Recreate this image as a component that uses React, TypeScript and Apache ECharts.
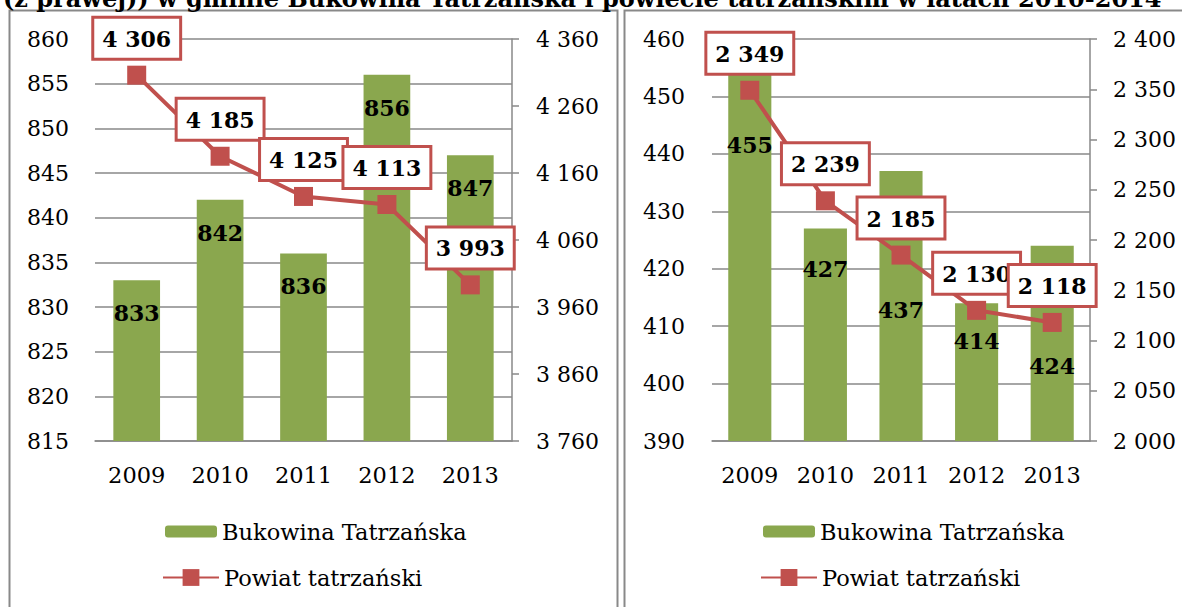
import React, { useEffect, useRef } from "react";
import * as echarts from "echarts";

const years = ["2009", "2010", "2011", "2012", "2013"];
const bukowinaLeft = [833, 842, 836, 856, 847];
const powiatLeft = [4306, 4185, 4125, 4113, 3993];
const bukowinaRight = [455, 427, 437, 414, 424];
const powiatRight = [2349, 2239, 2185, 2130, 2118];
const leftSecondaryTicks = [3760, 3860, 3960, 4060, 4160, 4260, 4360];
const titleText =
  "(z prawej)) w gminie Bukowina Tatrzańska i powiecie tatrzańskim w latach 2010-2014";
const barName = "Bukowina Tatrzańska";
const lineName = "Powiat tatrzański";

const FONT = "DejaVu Serif";
const GRID = "#898989";
const GREEN = "#8AA74E";
const RED = "#C0504D";

const fmt = (v: number) => String(v).replace(/\B(?=(\d{3})+(?!\d))/g, " ");

// label drop (px below bar top) for the right panel, as placed in the original
const rightBarLabelDrop = [66, 29, 128, 27, 109];

export default function App() {
  const ref = useRef<HTMLDivElement>(null);
  useEffect(() => {
    if (!ref.current) return;
    const chart = echarts.init(ref.current, undefined, { renderer: "svg" });

    const tickLabel = { fontSize: 22, fontFamily: FONT, color: "#000" };
    const barLabel = {
      show: true,
      position: "insideTop",
      distance: 22,
      fontSize: 22,
      fontWeight: "bold",
      fontFamily: FONT,
      color: "#000",
    };
    const lineLabel = {
      show: true,
      position: "top",
      distance: 8,
      formatter: (p: any) => fmt(p.value),
      fontSize: 22,
      fontWeight: "bold",
      fontFamily: FONT,
      color: "#000",
      backgroundColor: "#fff",
      borderColor: RED,
      borderWidth: 3,
      padding: [9, 8, 8, 8],
    };
    const legendText = { fontSize: 22.5, fontFamily: FONT, color: "#000" };

    const xAxisBase = {
      type: "category",
      data: years,
      boundaryGap: true,
      axisLine: { show: true, onZero: false, lineStyle: { color: GRID, width: 1.5 } },
      axisTick: { show: false },
      axisLabel: { ...tickLabel, fontSize: 22.5, margin: 22 },
      splitLine: { show: false },
    };

    const legendBase = {
      padding: 0,
      textStyle: legendText,
      selectedMode: false,
    };

    const option: any = {
      animation: false,
      backgroundColor: "#fff",
      grid: [
        { left: 95, top: 39, width: 417, height: 402 },
        { left: 712, top: 39, width: 378, height: 402 },
      ],
      xAxis: [
        { ...xAxisBase, gridIndex: 0 },
        { ...xAxisBase, gridIndex: 1 },
      ],
      yAxis: [
        {
          type: "value",
          gridIndex: 0,
          position: "left",
          min: 815,
          max: 860,
          interval: 5,
          axisLine: { show: false },
          axisTick: { show: false },
          splitLine: { show: true, lineStyle: { color: GRID, width: 1.5 } },
          axisLabel: { ...tickLabel, margin: 26 },
        },
        {
          type: "value",
          gridIndex: 0,
          position: "right",
          min: 3760,
          max: 4360,
          axisLine: { show: true, lineStyle: { color: GRID, width: 1.5 } },
          axisTick: {
            show: true,
            length: 7,
            lineStyle: { color: GRID, width: 1.5 },
            customValues: leftSecondaryTicks,
          },
          splitLine: { show: false },
          axisLabel: {
            ...tickLabel,
            margin: 24,
            customValues: leftSecondaryTicks,
            formatter: (v: number) => fmt(v),
          },
        },
        {
          type: "value",
          gridIndex: 1,
          position: "left",
          min: 390,
          max: 460,
          interval: 10,
          axisLine: { show: false },
          axisTick: { show: false },
          splitLine: { show: true, lineStyle: { color: GRID, width: 1.5 } },
          axisLabel: { ...tickLabel, margin: 27 },
        },
        {
          type: "value",
          gridIndex: 1,
          position: "right",
          min: 2000,
          max: 2400,
          interval: 50,
          axisLine: { show: true, lineStyle: { color: GRID, width: 1.5 } },
          axisTick: { show: true, length: 7, lineStyle: { color: GRID, width: 1.5 } },
          splitLine: { show: false },
          axisLabel: { ...tickLabel, margin: 23, formatter: (v: number) => fmt(v) },
        },
      ],
      legend: [
        { ...legendBase, data: [barName], left: 165, top: 520, itemWidth: 52, itemHeight: 12 },
        { ...legendBase, data: [lineName], left: 162, top: 566, itemWidth: 56, itemHeight: 21 },
        { ...legendBase, data: [barName], left: 763, top: 520, itemWidth: 52, itemHeight: 12 },
        { ...legendBase, data: [lineName], left: 760, top: 566, itemWidth: 56, itemHeight: 21 },
      ],
      series: [
        {
          name: barName,
          type: "bar",
          xAxisIndex: 0,
          yAxisIndex: 0,
          data: bukowinaLeft,
          barCategoryGap: "44%",
          itemStyle: { color: GREEN },
          label: barLabel,
          z: 2,
        },
        {
          name: lineName,
          type: "line",
          xAxisIndex: 0,
          yAxisIndex: 1,
          data: powiatLeft,
          symbol: "rect",
          symbolSize: 19,
          lineStyle: { color: RED, width: 4 },
          itemStyle: { color: RED },
          label: lineLabel,
          z: 3,
        },
        {
          name: barName,
          type: "bar",
          xAxisIndex: 1,
          yAxisIndex: 2,
          data: bukowinaRight.map((v, i) => ({
            value: v,
            label: { distance: rightBarLabelDrop[i] },
          })),
          barCategoryGap: "43%",
          itemStyle: { color: GREEN },
          label: barLabel,
          z: 2,
        },
        {
          name: lineName,
          type: "line",
          xAxisIndex: 1,
          yAxisIndex: 3,
          data: powiatRight,
          symbol: "rect",
          symbolSize: 19,
          lineStyle: { color: RED, width: 4 },
          itemStyle: { color: RED },
          label: lineLabel,
          z: 3,
        },
      ],
      graphic: [
        {
          type: "rect",
          shape: { x: 9.5, y: 10.5, width: 608, height: 640 },
          style: { fill: "none", stroke: GRID, lineWidth: 2 },
          silent: true,
        },
        {
          type: "rect",
          shape: { x: 624.5, y: 10.5, width: 620, height: 640 },
          style: { fill: "none", stroke: GRID, lineWidth: 2 },
          silent: true,
        },
        {
          type: "text",
          x: 3,
          y: -2,
          style: {
            text: titleText,
            fontSize: 24,
            fontWeight: "bold",
            fontFamily: FONT,
            fill: "#000",
            align: "left",
            verticalAlign: "middle",
          },
          silent: true,
        },
      ],
    };

    chart.setOption(option);
    return () => chart.dispose();
  }, []);

  return (
    <div
      ref={ref}
      style={{ position: "absolute", left: 0, top: 0, width: 1182, height: 607 }}
    />
  );
}
